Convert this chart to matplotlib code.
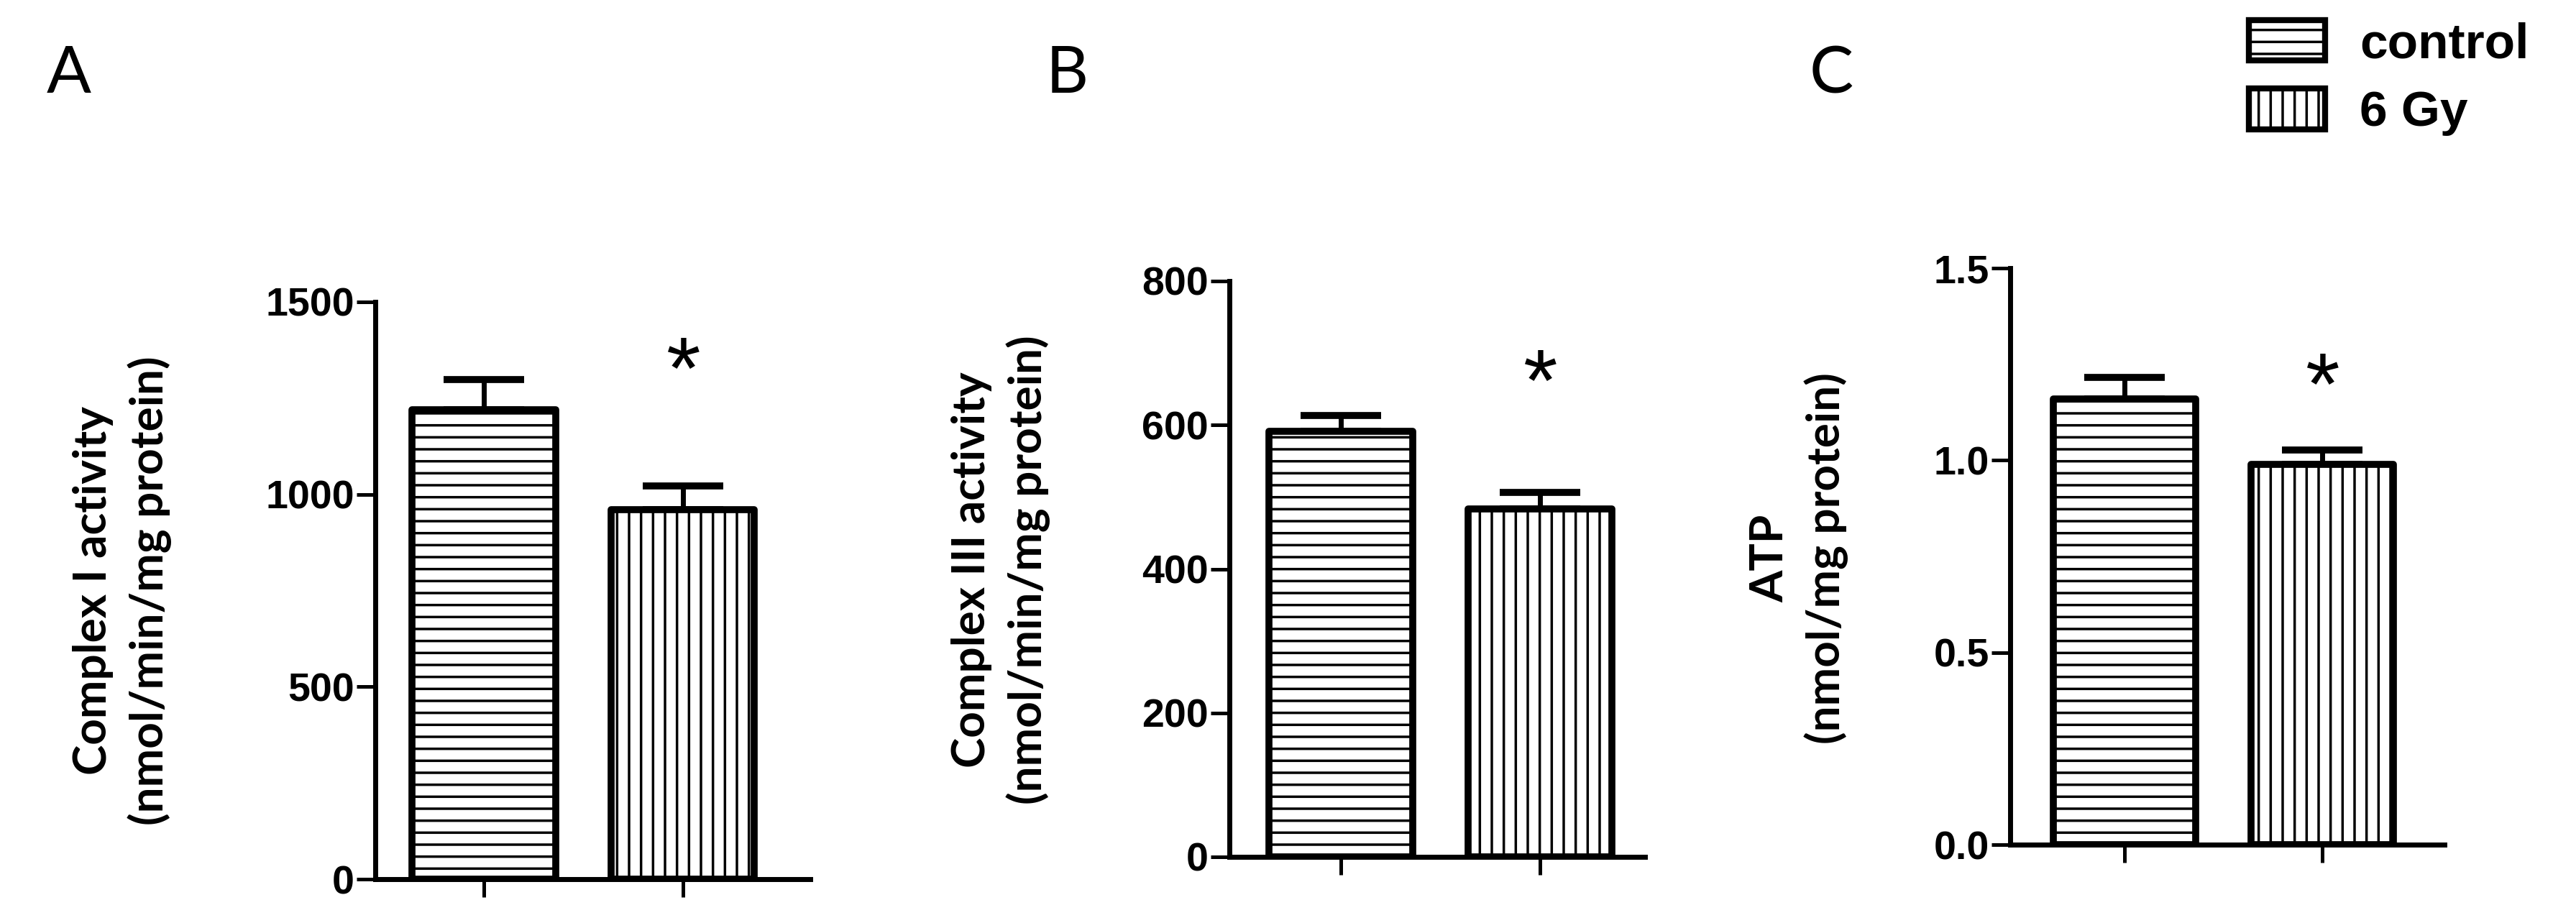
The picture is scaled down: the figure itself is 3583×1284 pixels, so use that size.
import matplotlib.pyplot as plt
from matplotlib.patches import Patch

# data (mean, upper SEM)
groups = ['control', '6 Gy']
complex1_mean = [1220, 961]
complex1_sem = [78, 61]
complex3_mean = [591, 483]
complex3_sem = [22, 23]
atp_mean = [1.16, 0.99]
atp_sem = [0.055, 0.037]

complex1_ticks = [0, 500, 1000, 1500]
complex3_ticks = [0, 200, 400, 600, 800]
atp_ticks = [0.0, 0.5, 1.0, 1.5]
atp_ticklabels = ['0.0', '0.5', '1.0', '1.5']

hatches = ['-', '|']

plt.rcParams['font.family'] = 'Liberation Sans'
plt.rcParams['font.weight'] = 'bold'
plt.rcParams['hatch.linewidth'] = 2.5

W, H = 3583, 1284
fig = plt.figure(figsize=(W / 100, H / 100), dpi=100)


def px_box(left, right, bottom, top):
    # pixel edges -> figure fraction rect
    return [left / W, 1 - bottom / H, (right - left) / W, (bottom - top) / H]


panels = [
    dict(letter='A', letter_x=65, box=(522, 1127, 1223, 420), xlim=(-0.545, 1.64),
         mean=complex1_mean, sem=complex1_sem, ticks=complex1_ticks, ticklabels=None,
         ylabel='Complex I activity\n(nmol/min/mg protein)', label_xy=(170, 822), star_y=1250),
    dict(letter='B', letter_x=1455, box=(1710, 2288, 1192, 391), xlim=(-0.56, 1.527),
         mean=complex3_mean, sem=complex3_sem, ticks=complex3_ticks, ticklabels=None,
         ylabel='Complex III activity\n(nmol/min/mg protein)', label_xy=(1392, 793), star_y=620),
    dict(letter='C', letter_x=2517, box=(2796, 3400, 1175, 373), xlim=(-0.578, 1.62),
         mean=atp_mean, sem=atp_sem, ticks=atp_ticks, ticklabels=atp_ticklabels,
         ylabel='ATP\n(nmol/mg protein)', label_xy=(2502, 777), star_y=1.12),
]

for p in panels:
    ax = fig.add_axes(px_box(*p['box']))
    x = list(range(len(groups)))
    bars = ax.bar(x, p['mean'], width=0.72, color='white', edgecolor='black',
                  linewidth=7, joinstyle='round', zorder=2)
    for b, h in zip(bars, hatches):
        b.set_hatch(h)
    ax.errorbar(x, p['mean'], yerr=[[0] * len(x), p['sem']], fmt='none', ecolor='black',
                elinewidth=5, capsize=40, capthick=7, zorder=1)

    ax.set_xlim(*p['xlim'])
    ax.set_ylim(p['ticks'][0], p['ticks'][-1])
    ax.set_yticks(p['ticks'])
    if p['ticklabels']:
        ax.set_yticklabels(p['ticklabels'])
    ax.set_xticks(x)
    ax.set_xticklabels([])

    for side in ['top', 'right']:
        ax.spines[side].set_visible(False)
    for side in ['left', 'bottom']:
        ax.spines[side].set_linewidth(5)
    ax.tick_params(axis='y', length=19, width=3.6, pad=2, labelsize=40)
    ax.tick_params(axis='x', length=18, width=3.6)

    # significance star over the 6 Gy bar
    ax.text(1, p['star_y'], '*', ha='center', va='baseline', fontsize=88,
            fontweight='normal')

    lx, ly = p['label_xy']
    fig.text(lx / W, 1 - ly / H, p['ylabel'], rotation=90, ha='center', va='center',
             multialignment='center', family='Lato', fontweight='bold', fontsize=46,
             linespacing=1.37)

    fig.text(p['letter_x'] / W, 1 - 129 / H, p['letter'], ha='left', va='baseline',
             family='Lato', fontweight='normal', fontsize=66)

handles = [Patch(facecolor='white', edgecolor='black', hatch=h, linewidth=6, label=g)
           for g, h in zip(groups, hatches)]
fig.legend(handles=handles, loc='upper left', bbox_to_anchor=(3128 / W, 1 - 28 / H),
           frameon=False, fontsize=50, handlelength=1.52, handleheight=0.87,
           handletextpad=0.7, labelspacing=0.42, borderpad=0, borderaxespad=0)

fig.savefig('out.png', dpi=100)
